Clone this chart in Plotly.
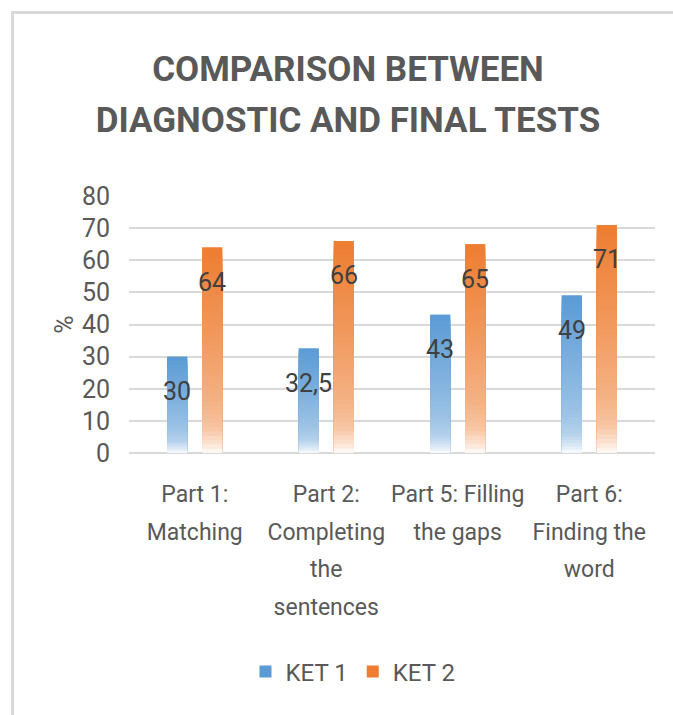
import numpy as np
import plotly.graph_objects as go

# ---------------- data ----------------
categories = ["Part 1: Matching", "Part 2: Completing the sentences",
              "Part 5: Filling the gaps", "Part 6: Finding the word"]
tick_lines = [["Part 1:", "Matching"],
              ["Part 2:", "Completing", "the", "sentences"],
              ["Part 5: Filling", "the gaps"],
              ["Part 6:", "Finding the", "word"]]
series_names = ["KET 1", "KET 2"]
ket1 = [30, 32.5, 43, 49]
ket2 = [64, 66, 65, 71]
y_ticks = [0, 10, 20, 30, 40, 50, 60, 70, 80]
title_lines = ["COMPARISON BETWEEN", "DIAGNOSTIC AND FINAL TESTS"]
y_title = "%"

# ---------------- style ----------------
W, H = 673, 715
ML, MR, MT, MB = 129, 18, 196, 262
colors = [(91, 155, 213), (237, 125, 49)]
FONT = "Roboto, Open Sans, sans-serif"
TXT = "#595959"
GRID = "#D9D9D9"

def fnt(size, color=TXT, **kw):
    return dict(family=FONT, size=size, color=color, **kw)

def spaced(lines, px):
    # render lines at `px` while the line pitch follows the (larger) parent font size
    return "<br>".join(f"<span style='font-size:{px}px'>{ln}</span>" for ln in lines)

tick_labels = [spaced(l, 23) for l in tick_lines]
title_text = spaced([f"<b>{t}</b>" for t in title_lines], 35)

# vertical fade profile (fraction of bar colour vs relative height in bar)
fade_t = [0.0, 0.04, 0.12, 0.25, 0.5, 0.75, 1.0]
fade_s = [0.02, 0.2, 0.45, 0.6, 0.75, 0.88, 1.0]
N = 48

def mix(c, s):
    return "rgb({},{},{})".format(*[round(255 + (ci - 255) * s) for ci in c])

fig = go.Figure()
series = [ket1, ket2]
for name, vals, col in zip(series_names, series, colors):
    fig.add_trace(go.Bar(x=categories, y=vals, name=name, offsetgroup=name,
                         marker=dict(color=mix(col, 1.0), line=dict(width=0)),
                         hoverinfo="skip"))

edges = np.linspace(0, 1, N + 1)
tops = edges[1:]
mids = (edges[:-1] + edges[1:]) / 2
s_band = np.interp(mids, fade_t, fade_s)

# opaque fade bands, tallest first so each shorter one paints the band below
for j in range(N - 1, -1, -1):
    for name, vals, col in zip(series_names, series, colors):
        fig.add_trace(go.Bar(x=categories, y=[v * tops[j] for v in vals],
                             offsetgroup=name, showlegend=False,
                             marker=dict(color=mix(col, s_band[j]),
                                         line=dict(width=0)),
                             hoverinfo="skip"))

# data labels
for k, vals in enumerate(series):
    shift = -17.5 if k == 0 else 17.5
    for cat, v in zip(categories, vals):
        txt = (f"{v:g}").replace(".", ",")
        fig.add_annotation(x=cat, y=v, text=txt, showarrow=False,
                           xshift=shift, yshift=-35, yanchor="middle",
                           font=fnt(25, "#404040"))

# chart frame (top and left edges)
pw, ph = W - ML - MR, H - MT - MB
def px2x(px):
    return (px - ML) / pw
def py2y(py):
    return (H - MB - py) / ph
fig.add_shape(type="line", xref="paper", yref="paper",
              x0=px2x(11), x1=px2x(W), y0=py2y(12.5), y1=py2y(12.5),
              line=dict(color="#D9D9D9", width=3))
fig.add_shape(type="line", xref="paper", yref="paper",
              x0=px2x(12.5), x1=px2x(12.5), y0=py2y(11), y1=py2y(H),
              line=dict(color="#D9D9D9", width=3))

fig.update_layout(
    width=W, height=H,
    margin=dict(l=ML, r=MR, t=MT, b=MB, autoexpand=False),
    paper_bgcolor="white", plot_bgcolor="white",
    barmode="group", bargap=0.468, bargroupgap=0.43,
    font=fnt(24),
    title=dict(text=title_text, xref="container", x=348 / W, xanchor="center",
               yref="container", y=1 - 81 / H, yanchor="middle",
               font=fnt(39)),
    showlegend=True,
    legend=dict(orientation="h", xref="container", x=353 / W, xanchor="center",
                yref="container", y=1 - 672 / H, yanchor="middle",
                font=fnt(24), traceorder="normal", bgcolor="rgba(0,0,0,0)"),
    xaxis=dict(type="category", tickvals=categories, ticktext=tick_labels,
               showgrid=False, showline=False, ticks="", zeroline=False,
               tickangle=0, tickfont=fnt(29), ticklabelstandoff=19),
    yaxis=dict(range=[0, 80], tickvals=y_ticks, showgrid=True, gridcolor=GRID,
               gridwidth=2, zeroline=True, zerolinecolor=GRID, zerolinewidth=2,
               showline=False, ticks="", tickfont=fnt(25),
               ticklabelstandoff=18,
               title=dict(text=y_title, standoff=1, font=fnt(25))),
)

fig.write_html("out.html", config={"displayModeBar": False},
               post_script="document.body.style.margin='0';")
